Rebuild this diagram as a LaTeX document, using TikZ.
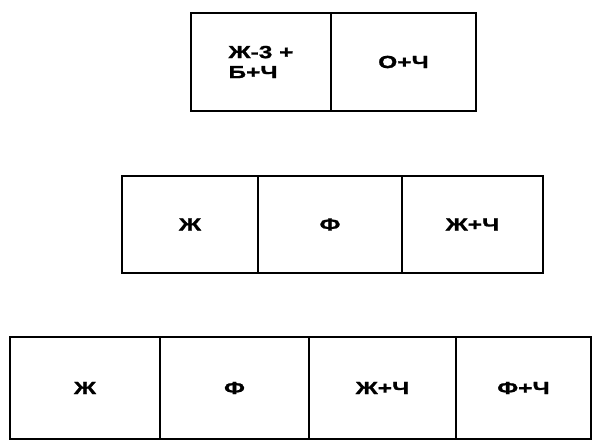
\documentclass[tikz,border=0pt]{standalone}
\usepackage{fontspec}
\setmainfont{Liberation Sans}
\newfontfamily\widefont[FakeStretch=1.4,FakeBold=1.2]{Liberation Sans}
\begin{document}
\begin{tikzpicture}[x=1pt,y=-1pt,
  cell/.style={draw=black,line width=2.7pt,rectangle,inner sep=0pt,
    font=\widefont\bfseries\fontsize{17.5}{20}\selectfont,align=left}]
\useasboundingbox (0,0) rectangle (598,441);
% row 1
\node[cell,minimum width=140pt,minimum height=98pt] (a1) at (261,62) {Ж-3 +\\Б+Ч};
\node[cell,minimum width=145pt,minimum height=98pt] (a2) at (403.5,62) {О+Ч};
% row 2
\node[cell,minimum width=136pt,minimum height=97pt] (b1) at (190,224.5) {Ж};
\node[cell,minimum width=144pt,minimum height=97pt] (b2) at (330,224.5) {Ф};
\node[cell,minimum width=141pt,minimum height=97pt] (b3) at (472.5,224.5) {Ж+Ч};
% row 3
\node[cell,minimum width=150pt,minimum height=102pt] (c1) at (85,388) {Ж};
\node[cell,minimum width=149pt,minimum height=102pt] (c2) at (234.5,388) {Ф};
\node[cell,minimum width=147pt,minimum height=102pt] (c3) at (382.5,388) {Ж+Ч};
\node[cell,minimum width=135pt,minimum height=102pt] (c4) at (523.5,388) {Ф+Ч};
\end{tikzpicture}
\end{document}
